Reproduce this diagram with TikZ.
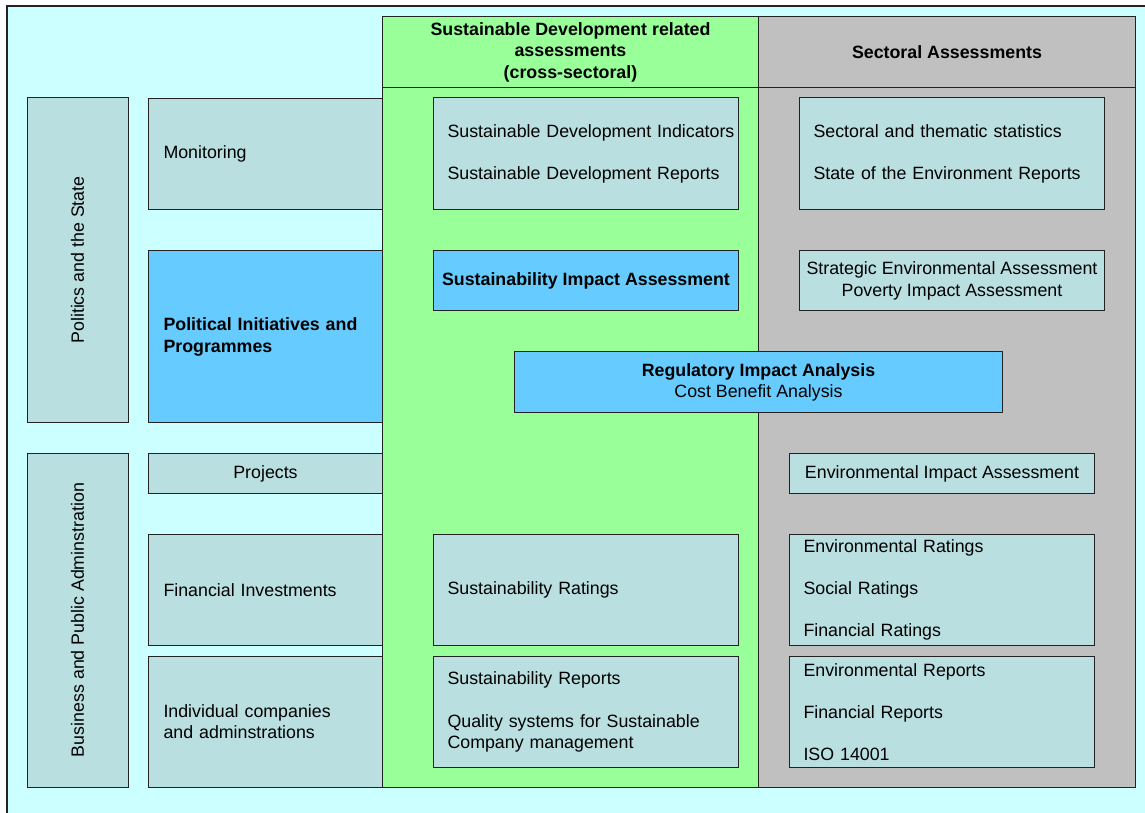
\documentclass[tikz,border=0pt]{standalone}
\usepackage{fontspec}
\setmainfont{Liberation Sans}
\definecolor{bgc}{HTML}{CCFFFF}
\definecolor{grn}{HTML}{99FF99}
\definecolor{gry}{HTML}{C0C0C0}
\definecolor{tealbox}{HTML}{B9DFE1}
\definecolor{bluebox}{HTML}{66CCFF}
\definecolor{edge}{HTML}{222222}
\tikzset{
  base/.style={draw=edge, line width=1pt, rectangle, inner sep=0pt, font=\fontsize{17.8}{21}\selectfont, text=black},
  cbox/.style={base, fill=tealbox, anchor=north west},
  bbox/.style={base, fill=bluebox, anchor=north west},
  colbox/.style={base, anchor=north west},
  vbox/.style={base, fill=tealbox, rotate=90},
}
\begin{document}
\begin{tikzpicture}[x=1pt,y=-1pt]
\useasboundingbox (0,0) rectangle (1145,813);
\fill[white] (0,0) rectangle (1145,813);
\fill[bgc] (7,6) rectangle (1145,813);
\coordinate (fa) at (7,813);
\coordinate (fb) at (7,6);
\coordinate (fc) at (1145,6);
\draw[edge, line width=1.2pt] (fa) -- (fb) -- (fc);

% columns
\node[colbox, fill=grn, minimum width=376, minimum height=700] (gcol) at (382,87) {};
\node[colbox, fill=grn, minimum width=376, minimum height=71, align=center, font=\fontsize{17.8}{21.5}\selectfont\bfseries] (ghead) at (382,16) {Sustainable Development related\\assessments\\(cross-sectoral)};
\node[colbox, fill=gry, minimum width=377, minimum height=700] (scol) at (758,87) {};
\node[colbox, fill=gry, minimum width=377, minimum height=71, align=center, font=\fontsize{17.8}{21}\selectfont\bfseries] (shead) at (758,16) {Sectoral Assessments};

% left side
\node[vbox, minimum width=324, minimum height=101] (pol) at (77.5,260) {Politics and the State};
\node[vbox, minimum width=334, minimum height=101] (bus) at (77.5,620) {Business and Public Adminstration};

\node[cbox, minimum height=111, text width=204, inner xsep=15pt, align=left] (mon) at (148,98) {Monitoring};
\node[bbox, minimum height=172, text width=204, inner xsep=15pt, align=left, font=\fontsize{17.8}{22}\selectfont\bfseries] (pip) at (148,250) {Political Initiatives and\\Programmes};
\node[cbox, minimum height=40, minimum width=234, align=center] (proj) at (148,453) {Projects};
\node[cbox, minimum height=111, text width=204, inner xsep=15pt, align=left] (fin) at (148,534) {Financial Investments};
\node[cbox, minimum height=131, text width=204, inner xsep=15pt, align=left] (ind) at (148,656) {Individual companies\\and adminstrations};

% green column boxes
\node[cbox, minimum height=112, text width=277, inner xsep=14pt, align=left] (sdi) at (433,97) {\mbox{Sustainable Development Indicators}\\[21pt]\mbox{Sustainable Development Reports}};
\node[bbox, minimum height=60, minimum width=305, align=center, font=\fontsize{17.8}{21}\selectfont\bfseries] (sia) at (433,250) {Sustainability Impact Assessment};
\node[cbox, minimum height=111, text width=277, inner xsep=14pt, align=left] (sr) at (433,534) {Sustainability Ratings};
\node[cbox, minimum height=111, text width=277, inner xsep=14pt, align=left] (srep) at (433,656) {Sustainability Reports\\[22pt]\mbox{Quality systems for Sustainable}\\Company management};

% sectoral boxes
\node[cbox, minimum height=112, text width=277, inner xsep=14pt, align=left] (sts) at (799,97) {\mbox{Sectoral and thematic statistics}\\[21pt]\mbox{State of the Environment Reports}};
\node[cbox, minimum height=60, minimum width=305, align=center, font=\fontsize{17.8}{22}\selectfont] (sea) at (799,250) {Strategic Environmental Assessment\\Poverty Impact Assessment};
\node[cbox, minimum height=40, minimum width=305, align=center] (eia) at (789,453) {Environmental Impact Assessment};
\node[cbox, minimum height=111, text width=277, inner xsep=14pt, align=left] (er) at (789,534) {Environmental Ratings\\[21.5pt]Social Ratings\\[21pt]Financial Ratings};
\node[cbox, minimum height=111, text width=277, inner xsep=14pt, align=left] (erep) at (789,656) {Environmental Reports\\[21.5pt]Financial Reports\\[21pt]ISO 14001};

% regulatory
\node[bbox, minimum height=61, minimum width=488, align=center, font=\fontsize{17.8}{21}\selectfont] (ria) at (514,351) {\textbf{Regulatory Impact Analysis}\\Cost Benefit Analysis};
\end{tikzpicture}
\end{document}
